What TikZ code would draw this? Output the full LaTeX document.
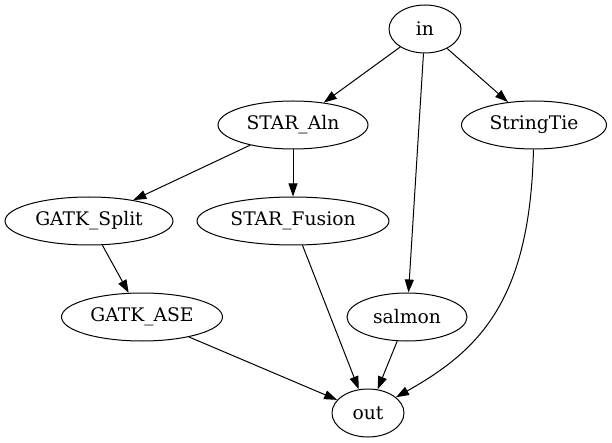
\documentclass[tikz,border=0pt]{standalone}
\usepackage{fontspec}
\setmainfont{DejaVu Serif}
\usetikzlibrary{shapes.geometric,arrows.meta}

\begin{document}
\begin{tikzpicture}[x=1pt,y=-1pt]
\tikzstyle{every node}+=[inner sep=0pt]
\tikzstyle{proc}=[draw=black, ellipse, line width=1pt, minimum height=48pt, font=\fontsize{18.7}{22}\selectfont]
\tikzstyle{edge}=[black, line width=1pt, -{Triangle[length=13pt,width=9pt]}]
\useasboundingbox (0,0) rectangle (612,443);
\node [proc, minimum width=72pt] (in) at (425,29) {in};
\node [proc, minimum width=150pt] (aln) at (293,125) {STAR\_Aln};
\node [proc, minimum width=145pt] (tie) at (534,125) {StringTie};
\node [proc, minimum width=168pt] (split) at (89,221) {GATK\_Split};
\node [proc, minimum width=192pt] (fusion) at (293,221) {STAR\_Fusion};
\node [proc, minimum width=161pt] (ase) at (142,317) {GATK\_ASE};
\node [proc, minimum width=120pt] (salmon) at (407,317) {salmon};
\node [proc, minimum width=72pt] (out) at (368,413) {out};
\draw [edge] (in) -- (aln);
\draw [edge] (in) -- (tie);
\draw [edge] (in) -- (salmon);
\draw [edge] (aln) -- (split);
\draw [edge] (aln) -- (fusion);
\draw [edge] (split) -- (ase);
\draw [edge] (ase) -- (out);
\draw [edge] (fusion) -- (out);
\draw [edge] (salmon) -- (out);
\draw [edge] (tie) .. controls (530,300) and (480,350) .. (out);
\end{tikzpicture}
\end{document}
